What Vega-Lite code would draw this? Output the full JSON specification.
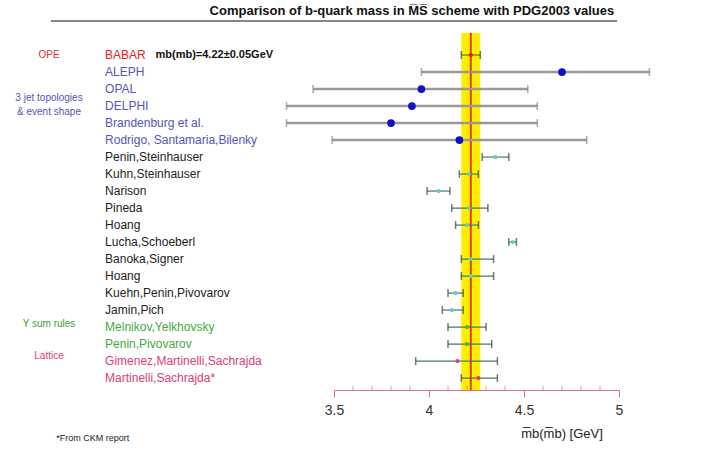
{
  "$schema": "https://vega.github.io/schema/vega-lite/v6.json",
  "width": 285,
  "height": 352,
  "autosize": "none",
  "padding": {"left": 334, "top": 38, "right": 82, "bottom": 60},
  "config": {"font": "Liberation Sans", "view": {"stroke": null}},
  "datasets": {
    "rows": [
      {"i": 1, "name": "BABAR", "grp": "ope", "c": 4.22, "lo": 4.17, "hi": 4.27},
      {"i": 2, "name": "ALEPH", "grp": "jet", "c": 4.70, "lo": 3.96, "hi": 5.16},
      {"i": 3, "name": "OPAL", "grp": "jet", "c": 3.96, "lo": 3.39, "hi": 4.52},
      {"i": 4, "name": "DELPHI", "grp": "jet", "c": 3.91, "lo": 3.25, "hi": 4.57},
      {"i": 5, "name": "Brandenburg et al.", "grp": "jet", "c": 3.80, "lo": 3.25, "hi": 4.57},
      {"i": 6, "name": "Rodrigo, Santamaria,Bilenky", "grp": "jet", "c": 4.16, "lo": 3.49, "hi": 4.83},
      {"i": 7, "name": "Penin,Steinhauser", "grp": "sr", "c": 4.35, "lo": 4.28, "hi": 4.42},
      {"i": 8, "name": "Kuhn,Steinhauser", "grp": "sr", "c": 4.21, "lo": 4.16, "hi": 4.26},
      {"i": 9, "name": "Narison", "grp": "sr", "c": 4.05, "lo": 3.99, "hi": 4.11},
      {"i": 10, "name": "Pineda", "grp": "sr", "c": 4.21, "lo": 4.12, "hi": 4.31},
      {"i": 11, "name": "Hoang", "grp": "sr", "c": 4.20, "lo": 4.14, "hi": 4.26},
      {"i": 12, "name": "Lucha,Schoeberl", "grp": "sr", "c": 4.44, "lo": 4.42, "hi": 4.46},
      {"i": 13, "name": "Banoka,Signer", "grp": "sr", "c": 4.22, "lo": 4.17, "hi": 4.34},
      {"i": 14, "name": "Hoang", "grp": "sr", "c": 4.22, "lo": 4.17, "hi": 4.34},
      {"i": 15, "name": "Kuehn,Penin,Pivovarov", "grp": "sr", "c": 4.14, "lo": 4.10, "hi": 4.18},
      {"i": 16, "name": "Jamin,Pich", "grp": "sr", "c": 4.12, "lo": 4.07, "hi": 4.18},
      {"i": 17, "name": "Melnikov,Yelkhovsky", "grp": "ups", "c": 4.20, "lo": 4.10, "hi": 4.30},
      {"i": 18, "name": "Penin,Pivovarov", "grp": "ups", "c": 4.20, "lo": 4.10, "hi": 4.33},
      {"i": 19, "name": "Gimenez,Martinelli,Sachrajda", "grp": "lat", "c": 4.15, "lo": 3.93, "hi": 4.36},
      {"i": 20, "name": "Martinelli,Sachrajda*", "grp": "lat", "c": 4.26, "lo": 4.17, "hi": 4.36}
    ],
    "notes": [
      {"x": 2.0, "y": 1, "t": "OPE", "col": "#e03030"},
      {"x": 2.0, "y": 3.5, "t": "3 jet topologies", "col": "#5555bb"},
      {"x": 2.0, "y": 4.35, "t": "& event shape", "col": "#5555bb"},
      {"x": 2.0, "y": 16.8, "t": "Υ sum rules", "col": "#449944"},
      {"x": 2.0, "y": 18.7, "t": "Lattice", "col": "#e04070"}
    ],
    "bold": [
      {"x": 2.87, "y": 1, "t": "mb(mb)=4.22±0.05GeV", "size": 11},
      {"x": 3.91, "y": -1.6, "t": "Comparison of b-quark mass in M̅S̅ scheme with PDG2003 values", "size": 13}
    ],
    "plain": [
      {"x": 2.23, "y": 23.5, "t": "*From CKM report", "size": 9},
      {"x": 4.7, "y": 23.3, "t": "m̅b(m̅b) [GeV]", "size": 13}
    ],
    "minor": [
      {"v": 3.6}, {"v": 3.7}, {"v": 3.8}, {"v": 3.9}, {"v": 4.1}, {"v": 4.2}, {"v": 4.3}, {"v": 4.4},
      {"v": 4.6}, {"v": 4.7}, {"v": 4.8}, {"v": 4.9}
    ]
  },
  "layer": [
    {
      "data": {"values": [{"lo": 4.17, "hi": 4.27, "y0": -0.3, "y1": 20.7}]},
      "mark": {"type": "rect", "color": "#ffee00", "clip": false},
      "encoding": {
        "x": {"field": "lo", "type": "quantitative", "scale": {"domain": [3.5, 5], "nice": false, "zero": false},
          "axis": {"values": [3.5, 4, 4.5, 5], "format": "~g",
            "grid": false, "title": null, "domainColor": "#e07080", "tickColor": "#e07080",
            "tickSize": 7, "tickOffset": 0, "labelFontSize": 14, "labelColor": "#333", "labelPadding": 6,
            "labelFlush": false}},
        "x2": {"field": "hi"},
        "y": {"field": "y0", "type": "quantitative", "scale": {"domain": [20.7, 0], "zero": false, "nice": false}, "axis": null},
        "y2": {"field": "y1"}
      }
    },
    {
      "data": {"name": "minor"},
      "mark": {"type": "tick", "orient": "vertical", "size": 5, "thickness": 1, "color": "#e07080", "clip": false},
      "encoding": {"x": {"field": "v", "type": "quantitative"}, "y": {"datum": 20.6, "type": "quantitative"}}
    },
    {
      "data": {"values": [{"v": 4.22, "y0": -0.3, "y1": 20.7}]},
      "mark": {"type": "rule", "color": "#dd4400", "strokeWidth": 2, "clip": false},
      "encoding": {"x": {"field": "v", "type": "quantitative"}, "y": {"field": "y0", "type": "quantitative"}, "y2": {"field": "y1"}}
    },
    {
      "data": {"name": "rows"},
      "mark": {"type": "rule", "clip": false},
      "encoding": {
        "x": {"field": "lo", "type": "quantitative"},
        "x2": {"field": "hi"},
        "y": {"field": "i", "type": "quantitative"},
        "color": {"condition": {"test": "datum.grp == 'jet'", "value": "#999999"}, "value": "#447777"},
        "strokeWidth": {"condition": {"test": "datum.grp == 'jet'", "value": 2.5}, "value": 1.2}
      }
    },
    {
      "data": {"name": "rows"},
      "transform": [{"fold": ["lo", "hi"], "as": ["end", "xv"]}],
      "mark": {"type": "tick", "orient": "vertical", "size": 8, "thickness": 1.5, "clip": false},
      "encoding": {
        "x": {"field": "xv", "type": "quantitative"},
        "y": {"field": "i", "type": "quantitative"},
        "color": {"condition": {"test": "datum.grp == 'jet'", "value": "#888888"}, "value": "#334444"}
      }
    },
    {
      "data": {"name": "rows"},
      "mark": {"type": "circle", "clip": false, "opacity": 1},
      "encoding": {
        "x": {"field": "c", "type": "quantitative"},
        "y": {"field": "i", "type": "quantitative"},
        "size": {"condition": {"test": "datum.grp == 'jet'", "value": 60}, "value": 18},
        "color": {"condition": [
          {"test": "datum.grp == 'jet'", "value": "#1010cc"},
          {"test": "datum.grp == 'ope'", "value": "#ee2020"},
          {"test": "datum.grp == 'ups'", "value": "#44bb44"},
          {"test": "datum.grp == 'lat'", "value": "#e04070"}
        ], "value": "#66cccc"}
      }
    },
    {
      "data": {"name": "rows"},
      "mark": {"type": "text", "align": "left", "baseline": "middle", "fontSize": 12, "clip": false},
      "encoding": {
        "x": {"datum": 2.295, "type": "quantitative"},
        "y": {"field": "i", "type": "quantitative"},
        "text": {"field": "name"},
        "fontWeight": {"condition": {"test": "datum.grp == 'ope'", "value": "bold"}, "value": "normal"},
        "color": {"condition": [
          {"test": "datum.grp == 'jet'", "value": "#5555bb"},
          {"test": "datum.grp == 'ope'", "value": "#ee2020"},
          {"test": "datum.grp == 'ups'", "value": "#44aa44"},
          {"test": "datum.grp == 'lat'", "value": "#e04070"}
        ], "value": "#222222"}
      }
    },
    {
      "data": {"name": "notes"},
      "mark": {"type": "text", "baseline": "middle", "align": "center", "fontSize": 10, "clip": false},
      "encoding": {
        "x": {"field": "x", "type": "quantitative"},
        "y": {"field": "y", "type": "quantitative"},
        "text": {"field": "t"},
        "color": {"field": "col", "type": "nominal", "scale": null}
      }
    },
    {
      "data": {"name": "bold"},
      "mark": {"type": "text", "baseline": "middle", "align": "center", "fontWeight": "bold", "color": "#111", "clip": false},
      "encoding": {
        "x": {"field": "x", "type": "quantitative"},
        "y": {"field": "y", "type": "quantitative"},
        "text": {"field": "t"},
        "size": {"field": "size", "type": "quantitative", "scale": null}
      }
    },
    {
      "data": {"name": "plain"},
      "mark": {"type": "text", "baseline": "middle", "align": "center", "color": "#222", "clip": false},
      "encoding": {
        "x": {"field": "x", "type": "quantitative"},
        "y": {"field": "y", "type": "quantitative"},
        "text": {"field": "t"},
        "size": {"field": "size", "type": "quantitative", "scale": null}
      }
    },
    {
      "data": {"values": [{"a": 2.01, "b": 4.99, "y": -1.0}]},
      "mark": {"type": "rule", "color": "#111", "strokeWidth": 1.2, "clip": false},
      "encoding": {"x": {"field": "a", "type": "quantitative"}, "x2": {"field": "b"}, "y": {"field": "y", "type": "quantitative"}}
    }
  ]
}
